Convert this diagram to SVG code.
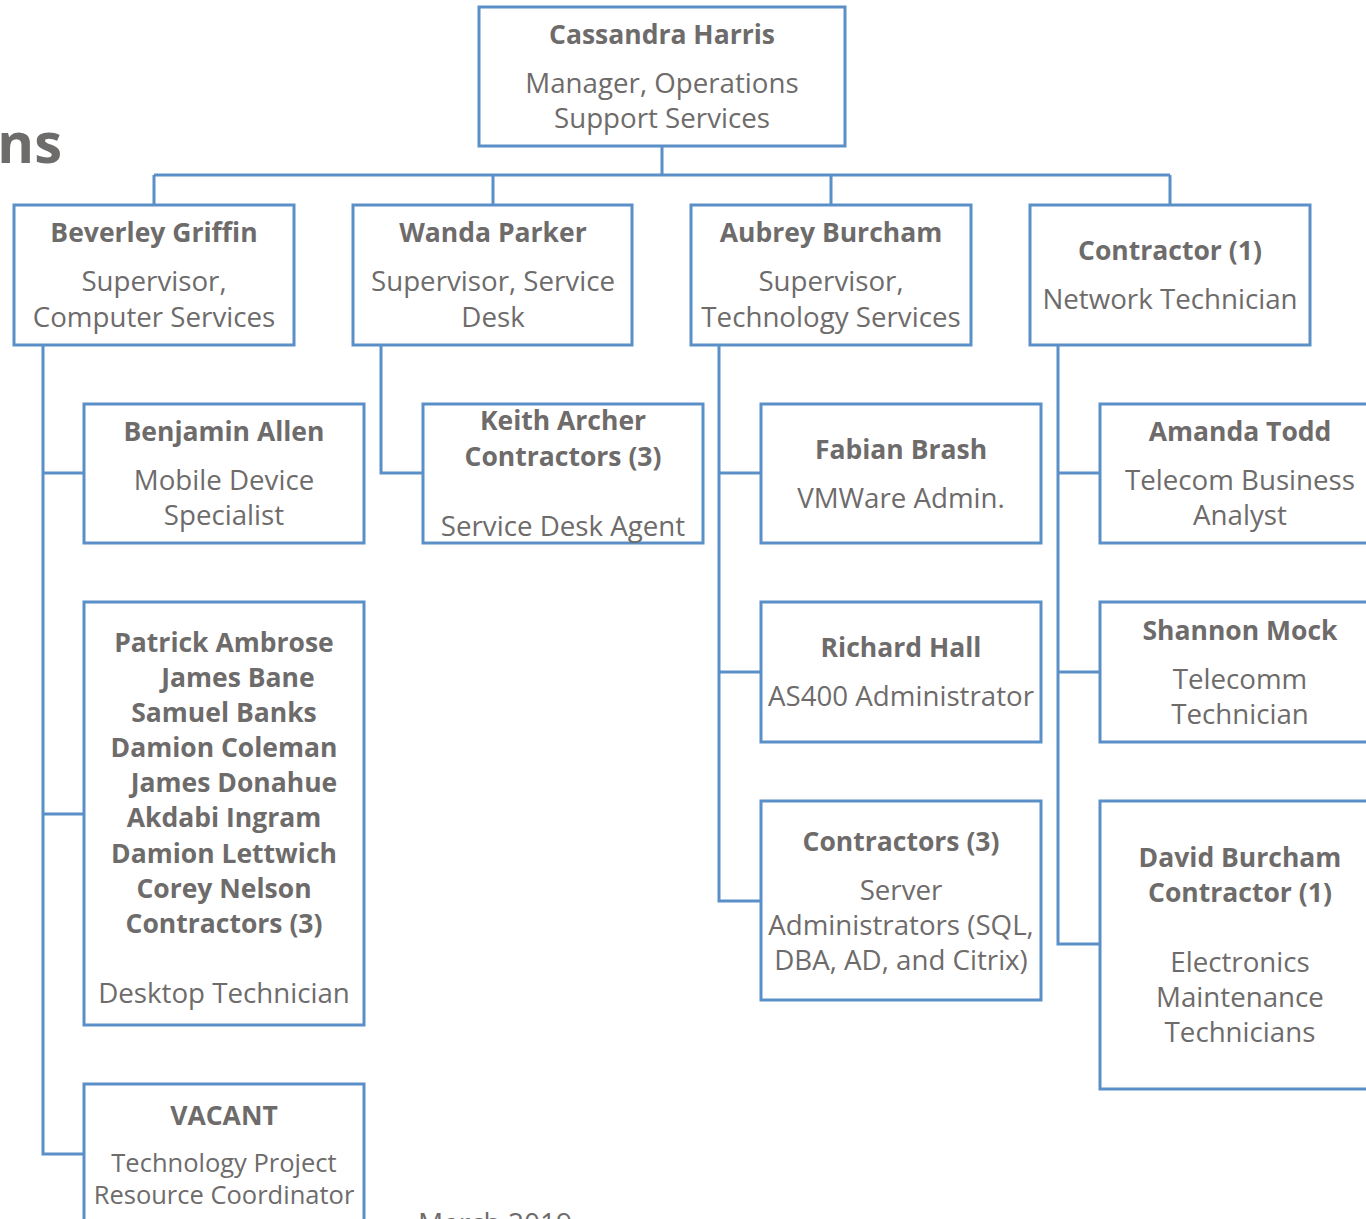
<svg xmlns="http://www.w3.org/2000/svg" width="1366" height="1219" viewBox="0 0 1366 1219">
<style>
.box{fill:#ffffff;stroke:#5a8fc7;stroke-width:3}
.con{fill:none;stroke:#5a8fc7;stroke-width:3}
text{font-family:"Open Sans","Liberation Sans",sans-serif;fill:#6e6b6b;text-anchor:middle}
.n{font-weight:bold;font-size:26.5px}
.t{font-size:27.7px}
.s{font-size:25.5px}
</style>
<rect width="1366" height="1219" fill="#ffffff"/>
<text x="62" y="163" style="font-weight:bold;font-size:56px;text-anchor:end">ns</text>
<text x="418" y="1233" style="font-size:28px;text-anchor:start">March 2019</text>
<g id="connectors">
<path class="con" d="M662 146V175M154 175H1170M154 175V205M493 175V205M831 175V205M1170 175V205"/>
<path class="con" d="M43 345V1154H84M43 473H84M43 814H84"/>
<path class="con" d="M381 345V473H423"/>
<path class="con" d="M719 345V901H761M719 473H761M719 672H761"/>
<path class="con" d="M1058 345V944H1100M1058 473H1100M1058 672H1100"/>
</g>
<g id="cassandra">
<rect class="box" x="479" y="7" width="366" height="139"/>
<text class="n" x="662" y="44">Cassandra Harris</text>
<text class="t" x="662" y="93">Manager, Operations</text>
<text class="t" x="662" y="128">Support Services</text>
</g>
<g id="beverley">
<rect class="box" x="14" y="205" width="280" height="140"/>
<text class="n" x="154" y="242">Beverley Griffin</text>
<text class="t" x="154" y="291">Supervisor,</text>
<text class="t" x="154" y="327">Computer Services</text>
</g>
<g id="wanda">
<rect class="box" x="353" y="205" width="279" height="140"/>
<text class="n" x="493" y="242">Wanda Parker</text>
<text class="t" x="493" y="291">Supervisor, Service</text>
<text class="t" x="493" y="327">Desk</text>
</g>
<g id="aubrey">
<rect class="box" x="691" y="205" width="280" height="140"/>
<text class="n" x="831" y="242">Aubrey Burcham</text>
<text class="t" x="831" y="291">Supervisor,</text>
<text class="t" x="831" y="327">Technology Services</text>
</g>
<g id="contractor-network">
<rect class="box" x="1030" y="205" width="280" height="140"/>
<text class="n" x="1170" y="260">Contractor (1)</text>
<text class="t" x="1170" y="309">Network Technician</text>
</g>
<g id="benjamin">
<rect class="box" x="84" y="404" width="280" height="139"/>
<text class="n" x="224" y="441">Benjamin Allen</text>
<text class="t" x="224" y="490">Mobile Device</text>
<text class="t" x="224" y="525">Specialist</text>
</g>
<g id="desktop">
<rect class="box" x="84" y="602" width="280" height="423"/>
<text class="n" x="224" y="652">Patrick Ambrose</text>
<text class="n" x="238" y="687">James Bane</text>
<text class="n" x="224" y="722">Samuel Banks</text>
<text class="n" x="224" y="757">Damion Coleman</text>
<text class="n" x="234" y="792">James Donahue</text>
<text class="n" x="224" y="827">Akdabi Ingram</text>
<text class="n" x="224" y="863">Damion Lettwich</text>
<text class="n" x="224" y="898">Corey Nelson</text>
<text class="n" x="224" y="933">Contractors (3)</text>
<text class="t" x="224" y="1003">Desktop Technician</text>
</g>
<g id="vacant">
<rect class="box" x="84" y="1084" width="280" height="160"/>
<text class="n" x="224" y="1125">VACANT</text>
<text class="s" x="224" y="1172">Technology Project</text>
<text class="s" x="224" y="1204">Resource Coordinator</text>
</g>
<g id="keith">
<rect class="box" x="423" y="404" width="280" height="139"/>
<text class="n" x="563" y="430">Keith Archer</text>
<text class="n" x="563" y="466">Contractors (3)</text>
<text class="t" x="563" y="536">Service Desk Agent</text>
</g>
<g id="fabian">
<rect class="box" x="761" y="404" width="280" height="139"/>
<text class="n" x="901" y="459">Fabian Brash</text>
<text class="t" x="901" y="508">VMWare Admin.</text>
</g>
<g id="richard">
<rect class="box" x="761" y="602" width="280" height="140"/>
<text class="n" x="901" y="657">Richard Hall</text>
<text class="t" x="901" y="706">AS400 Administrator</text>
</g>
<g id="server-contractors">
<rect class="box" x="761" y="801" width="280" height="199"/>
<text class="n" x="901" y="851">Contractors (3)</text>
<text class="t" x="901" y="900">Server</text>
<text class="t" x="901" y="935">Administrators (SQL,</text>
<text class="t" x="901" y="970">DBA, AD, and Citrix)</text>
</g>
<g id="amanda">
<rect class="box" x="1100" y="404" width="280" height="139"/>
<text class="n" x="1240" y="441">Amanda Todd</text>
<text class="t" x="1240" y="490">Telecom Business</text>
<text class="t" x="1240" y="525">Analyst</text>
</g>
<g id="shannon">
<rect class="box" x="1100" y="602" width="280" height="140"/>
<text class="n" x="1240" y="640">Shannon Mock</text>
<text class="t" x="1240" y="689">Telecomm</text>
<text class="t" x="1240" y="724">Technician</text>
</g>
<g id="david">
<rect class="box" x="1100" y="801" width="280" height="288"/>
<text class="n" x="1240" y="867">David Burcham</text>
<text class="n" x="1240" y="902">Contractor (1)</text>
<text class="t" x="1240" y="972">Electronics</text>
<text class="t" x="1240" y="1007">Maintenance</text>
<text class="t" x="1240" y="1042">Technicians</text>
</g>
</svg>
